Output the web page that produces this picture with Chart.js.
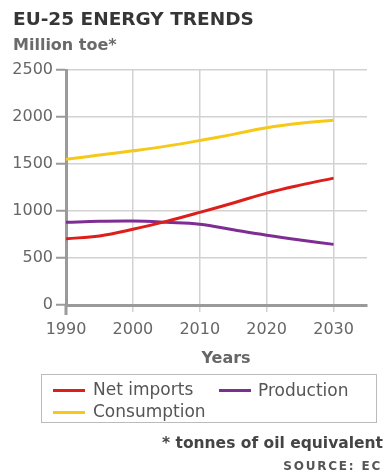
<!DOCTYPE html>
<html>
<head>
<meta charset="utf-8">
<script src="https://cdn.jsdelivr.net/npm/chart.js@4"></script>
<style>
  body { margin: 0; background: #fff; }
  #wrap { position: relative; width: 385px; height: 474px; overflow: hidden; font-family: "DejaVu Sans", sans-serif; }
  #wrap canvas { position: absolute; left: 0; top: 0; }
  .txt { position: absolute; white-space: nowrap; }
  #title { left: 13px; top: 9.5px; font-size: 18.5px; line-height: 18.5px; font-weight: bold; color: #363636; }
  #unit { left: 13px; top: 36.5px; font-size: 16px; line-height: 16px; font-weight: bold; color: #6a6a6a; }
  #xname { left: 0; width: 452px; text-align: center; top: 350px; font-size: 16px; line-height: 16px; font-weight: bold; color: #666; }
  #legend { position: absolute; left: 41px; top: 374px; width: 336px; height: 49px; box-sizing: border-box; border: 1.5px solid #bbb; }
  .key { position: absolute; height: 3px; width: 32px; }
  .lab { font-size: 17px; line-height: 17px; color: #555; }
  #note { right: 2px; top: 436px; font-size: 15.5px; line-height: 15.5px; font-weight: bold; color: #444; }
  #source { right: 3px; top: 460px; font-size: 12px; line-height: 12px; font-weight: bold; color: #555; letter-spacing: 1.8px; }
</style>
</head>
<body>
<div id="wrap">
  <canvas id="energyChart" width="385" height="474"></canvas>
  <div class="txt" id="title">EU-25 ENERGY TRENDS</div>
  <div class="txt" id="unit">Million toe*</div>
  <div class="txt" id="xname">Years</div>
  <div id="legend"></div>
  <div class="txt" id="note">* tonnes of oil equivalent</div>
  <div class="txt" id="source">SOURCE: EC</div>
</div>
<script>
  // Values (million toe)
  const years = [1990, 1995, 2000, 2005, 2010, 2015, 2020, 2025, 2030];
  const netImports = [705, 735, 805, 890, 985, 1085, 1190, 1275, 1350];
  const production = [880, 890, 893, 880, 860, 800, 742, 691, 645];
  const consumption = [1550, 1595, 1640, 1690, 1750, 1815, 1885, 1933, 1965];

  const xTicks = [1990, 2000, 2010, 2020, 2030];
  const yTicks = [0, 500, 1000, 1500, 2000, 2500];

  const seriesNames = ["Net imports", "Production", "Consumption"];
  const seriesColors = ["#dc1f1a", "#7e2e92", "#f6c817"];

  const GRID = "#d2d2d2";
  const AXIS = "#9a9a9a";
  const TICK_FONT = { family: "DejaVu Sans", size: 16 };

  function toPoints(values) {
    return values.map((v, i) => ({ x: years[i], y: v }));
  }

  const seriesValues = [netImports, production, consumption];
  const datasets = seriesNames.map((name, i) => ({
    label: name,
    data: toPoints(seriesValues[i]),
    borderColor: seriesColors[i],
    backgroundColor: seriesColors[i],
    borderWidth: 3,
    pointRadius: 0,
    tension: 0.4,
    fill: false
  }));

  // y axis sticks out a little below the x axis
  const axisStub = {
    id: "axisStub",
    afterDraw(chart) {
      const { ctx, chartArea } = chart;
      ctx.save();
      ctx.strokeStyle = AXIS;
      ctx.lineWidth = 3;
      ctx.beginPath();
      ctx.moveTo(chartArea.left, chartArea.bottom);
      ctx.lineTo(chartArea.left, chartArea.bottom + 10);
      ctx.stroke();
      ctx.restore();
    }
  };

  new Chart(document.getElementById("energyChart"), {
    type: "line",
    data: { datasets: datasets },
    plugins: [axisStub],
    options: {
      responsive: false,
      animation: false,
      events: [],
      layout: { padding: { left: 0, top: 70, right: 18, bottom: 0 } },
      plugins: {
        legend: { display: false },
        tooltip: { enabled: false }
      },
      scales: {
        x: {
          type: "linear",
          min: 1990,
          max: 2035,
          afterBuildTicks(scale) {
            scale.ticks = xTicks.map(v => ({ value: v }));
          },
          afterFit(scale) {
            scale.height = 474 - 305;
          },
          grid: { color: GRID, lineWidth: 1.5, tickLength: 7, tickColor: GRID },
          border: { color: AXIS, width: 3 },
          ticks: {
            color: "#666",
            font: TICK_FONT,
            padding: 8,
            maxRotation: 0,
            callback: v => String(v)
          }
        },
        y: {
          min: 0,
          max: 2500,
          afterBuildTicks(scale) {
            scale.ticks = yTicks.map(v => ({ value: v }));
          },
          afterFit(scale) {
            scale.width = 66;
          },
          grid: { color: GRID, lineWidth: 1.5, tickLength: 10, tickColor: AXIS, tickWidth: 2 },
          border: { color: AXIS, width: 3 },
          ticks: {
            color: "#666",
            font: TICK_FONT,
            padding: 3,
            callback: v => String(v)
          }
        }
      }
    }
  });

  // Boxed legend under the chart
  const legendSlots = [
    { left: 11, top: 13.5, textLeft: 51, textTop: 6 },
    { left: 177, top: 13.5, textLeft: 216, textTop: 7 },
    { left: 11, top: 35.5, textLeft: 51, textTop: 28 }
  ];
  const legendBox = document.getElementById("legend");
  seriesNames.forEach((name, i) => {
    const slot = legendSlots[i];
    const key = document.createElement("div");
    key.className = "key";
    key.style.left = slot.left + "px";
    key.style.top = slot.top + "px";
    key.style.background = seriesColors[i];
    legendBox.appendChild(key);

    const lab = document.createElement("div");
    lab.className = "txt lab";
    lab.style.left = slot.textLeft + "px";
    lab.style.top = slot.textTop + "px";
    lab.textContent = name;
    legendBox.appendChild(lab);
  });
</script>
</body>
</html>
